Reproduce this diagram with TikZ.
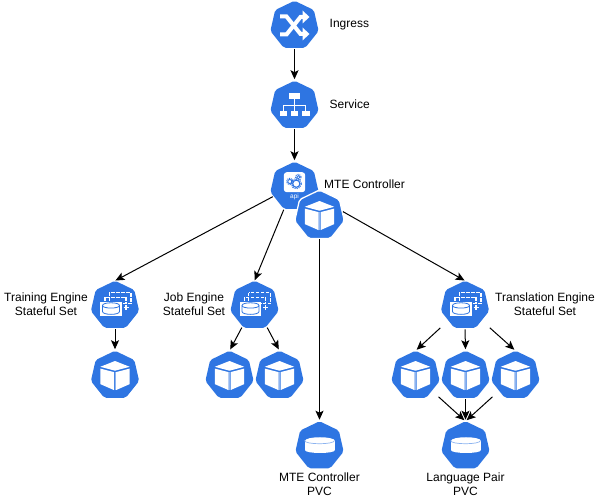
\documentclass[tikz,border=0pt]{standalone}
\usepackage{fontspec}
\setmainfont{Liberation Sans}
\usetikzlibrary{shapes.geometric,arrows.meta}
\definecolor{kube}{HTML}{2E75E2}
\definecolor{kubel}{HTML}{8DB4F0}
\tikzset{
  hept/.style={regular polygon,regular polygon sides=7,minimum size=49.5pt,inner sep=0pt,outer sep=0pt,fill=kube,rounded corners=2pt,draw=none},
  heptw/.style={hept,draw=white,line width=1.3pt,minimum size=51pt},
  lbl/.style={font=\fontsize{12}{14}\selectfont,align=center,text=black,inner sep=0pt},
  conn/.style={draw=black,line width=1pt,-{Stealth[length=9pt,width=8pt,inset=2pt]}},
  cubeicon/.pic={
    \fill[white] (0,-14.5)--(14.7,-8.7)--(0,-4.8)--(-14.7,-8.7)--cycle;
    \fill[white] (-14.7,-6.9)--(-1,-3.4)--(-1,14.6)--(-14.7,8.6)--cycle;
    \fill[white] (14.7,-6.9)--(1,-3.4)--(1,14.6)--(14.7,8.6)--cycle;
    \draw[kubel,line width=0.6pt] (0,-3.6)--(0,14.5);
  },
  pvcicon/.pic={
    \fill[white] (-15,-5.5) rectangle (15,3.5);
    \fill[white] (-15,-5.5) .. controls (-15,-10.3) and (15,-10.3) .. (15,-5.5) -- cycle;
    \fill[white] (-15,3.5) .. controls (-15,8.3) and (15,8.3) .. (15,3.5) -- cycle;
    \draw[kubel,line width=0.7pt] (-15,-5.5) .. controls (-15,-1.2) and (15,-1.2) .. (15,-5.5);
  },
  ingicon/.pic={
    \draw[white,line width=4pt] (-14.5,-9)--(-8,-9)--(6,8.5)--(9,8.5);
    \draw[white,line width=4pt] (-14.5,9)--(-8,9)--(6,-8.5)--(9,-8.5);
    \fill[white] (8,-15)--(15,-8.5)--(8,-2)--cycle;
    \fill[white] (8,2)--(15,8.5)--(8,15)--cycle;
  },
  svcicon/.pic={
    \fill[white] (-6,-12) rectangle (5.5,-6.2);
    \fill[white] (-15,5) rectangle (-7.5,10.3);
    \fill[white] (-3.8,5) rectangle (3.8,10.3);
    \fill[white] (7.5,5) rectangle (15,10.3);
    \draw[white,line width=0.9pt] (0,-6.2)--(0,5) (-11.2,5)--(-11.2,-0.5)--(11.2,-0.5)--(11.2,5);
  },
  apiicon/.pic={
    \fill[white,rounded corners=3pt] (-10.7,-14.3) rectangle (10.7,5.7);
    \draw[kube,line width=1.1pt] (1.8,-2.8) circle[radius=3.6];
    \draw[kube,line width=1.3pt,dash pattern=on 1pt off 1.1pt] (1.8,-2.8) circle[radius=5];
    \draw[kube,line width=0.9pt] (-4.7,-5) circle[radius=2];
    \draw[kube,line width=1pt,dash pattern=on 1pt off 1pt] (-4.7,-5) circle[radius=3.2];
    \draw[kube,line width=0.8pt] (3.8,-9.3) circle[radius=1.6];
    \draw[kube,line width=1pt,dash pattern=on 1pt off 1pt] (3.8,-9.3) circle[radius=2.8];
    \node[text=white,font=\fontsize{6.5}{7}\selectfont,inner sep=0pt] at (0,10) {api};
  },
  stsicon/.pic={
    \draw[white,line width=1.2pt,dash pattern=on 3.5pt off 1.5pt] (-5.7,-12.7) rectangle (16,-1.7);
    \draw[white,line width=1.2pt,dash pattern=on 3.5pt off 1.5pt] (-10,-8.3) rectangle (11,-2);
    \draw[white,line width=1.1pt] (11,-0.8)--(11,4.2) (8.5,1.7)--(13.5,1.7);
    \fill[white] (-14.7,-4) rectangle (6.7,10.7);
    \draw[kube,line width=0.8pt] (-12.5,0) .. controls (-12.5,-3.6) and (4.5,-3.6) .. (4.5,0) -- (4.5,6) .. controls (4.5,9.8) and (-12.5,9.8) .. (-12.5,6) -- cycle;
    \draw[kube,line width=0.8pt] (-12.5,0) .. controls (-12.5,3.4) and (4.5,3.4) .. (4.5,0);
  },
}
\begin{document}
\begin{tikzpicture}[x=1pt,y=-1pt]
\useasboundingbox (0,0) rectangle (601,500);
\fill[white] (0,0) rectangle (601,500);
% main shapes
\node[hept] (ing) at (294.5,25.5) {};
\pic at (ing) {ingicon};
\node[hept] (svc) at (294.5,105.5) {};
\pic at (svc) {svcicon};
\node[hept] (api) at (294.5,186.5) {};
\pic at (api) {apiicon};
\node[heptw] (ctl) at (319.5,215.5) {};
\pic at (ctl) {cubeicon};
\node[hept] (st1) at (115,305.5) {};
\pic at (st1) {stsicon};
\node[hept] (st2) at (254.5,305.5) {};
\pic at (st2) {stsicon};
\node[hept] (st3) at (465,305.5) {};
\pic at (st3) {stsicon};
\node[hept] (p1) at (115,375.5) {};
\pic at (p1) {cubeicon};
\node[hept] (p2) at (229.5,375.5) {};
\pic at (p2) {cubeicon};
\node[hept] (p3) at (279.5,375.5) {};
\pic at (p3) {cubeicon};
\node[hept] (p4) at (415.5,375.5) {};
\pic at (p4) {cubeicon};
\node[hept] (p5) at (465.5,375.5) {};
\pic at (p5) {cubeicon};
\node[hept] (p6) at (515.5,375.5) {};
\pic at (p6) {cubeicon};
\node[hept] (v1) at (319.5,446) {};
\pic at (v1) {pvcicon};
\node[hept] (v2) at (465.5,446) {};
\pic at (v2) {pvcicon};
% labels
\node[lbl,anchor=base west] (t1) at (329.5,28) {Ingress};
\node[lbl,anchor=base west] (t2) at (329.5,108) {Service};
\node[lbl,anchor=base west] (t3) at (324,188) {MTE Controller};
\node[lbl] (t4) at (46,304) {Training Engine\\Stateful Set};
\node[lbl] (t5) at (194,304) {Job Engine\\Stateful Set};
\node[lbl] (t6) at (545,304) {Translation Engine\\Stateful Set};
\node[lbl] (t7) at (319.5,484) {MTE Controller\\PVC};
\node[lbl] (t8) at (465.5,484) {Language Pair\\PVC};
% connectors
\draw[conn,shorten >=1.5pt,shorten <=1.5pt] (ing.south) -- (svc.north);
\draw[conn,shorten >=1.5pt,shorten <=1.5pt] (svc.south) -- (api.north);
\draw[conn,shorten >=0.5pt,shorten <=1pt] (api.205) -- (st1.north);
\draw[conn,shorten >=0.5pt,shorten <=1pt] (api.245) -- (st2.north);
\draw[conn,shorten >=1.5pt,shorten <=1pt] (ctl.south) -- (v1.north);
\draw[conn,shorten >=0.5pt,shorten <=1pt] (ctl.11) -- (st3.north);
\draw[conn,shorten >=1.5pt,shorten <=1.5pt] (st1.south) -- (p1.north);
\draw[conn,shorten >=1.5pt,shorten <=1.5pt] (st2.240) -- (p2.north);
\draw[conn,shorten >=1.5pt,shorten <=1.5pt] (st2.300) -- (p3.north);
\draw[conn,shorten >=1.5pt,shorten <=11pt] (st3.222) -- (p4.north);
\draw[conn,shorten >=1.5pt,shorten <=1.5pt] (st3.south) -- (p5.north);
\draw[conn,shorten >=1.5pt,shorten <=11pt] (st3.318) -- (p6.north);
\draw[conn,shorten >=1.5pt,shorten <=9pt] (p4.317) -- (v2.north);
\draw[conn,shorten >=1.5pt,shorten <=1.5pt] (p5.south) -- (v2.north);
\draw[conn,shorten >=1.5pt,shorten <=9pt] (p6.223) -- (v2.north);
\end{tikzpicture}
\end{document}
